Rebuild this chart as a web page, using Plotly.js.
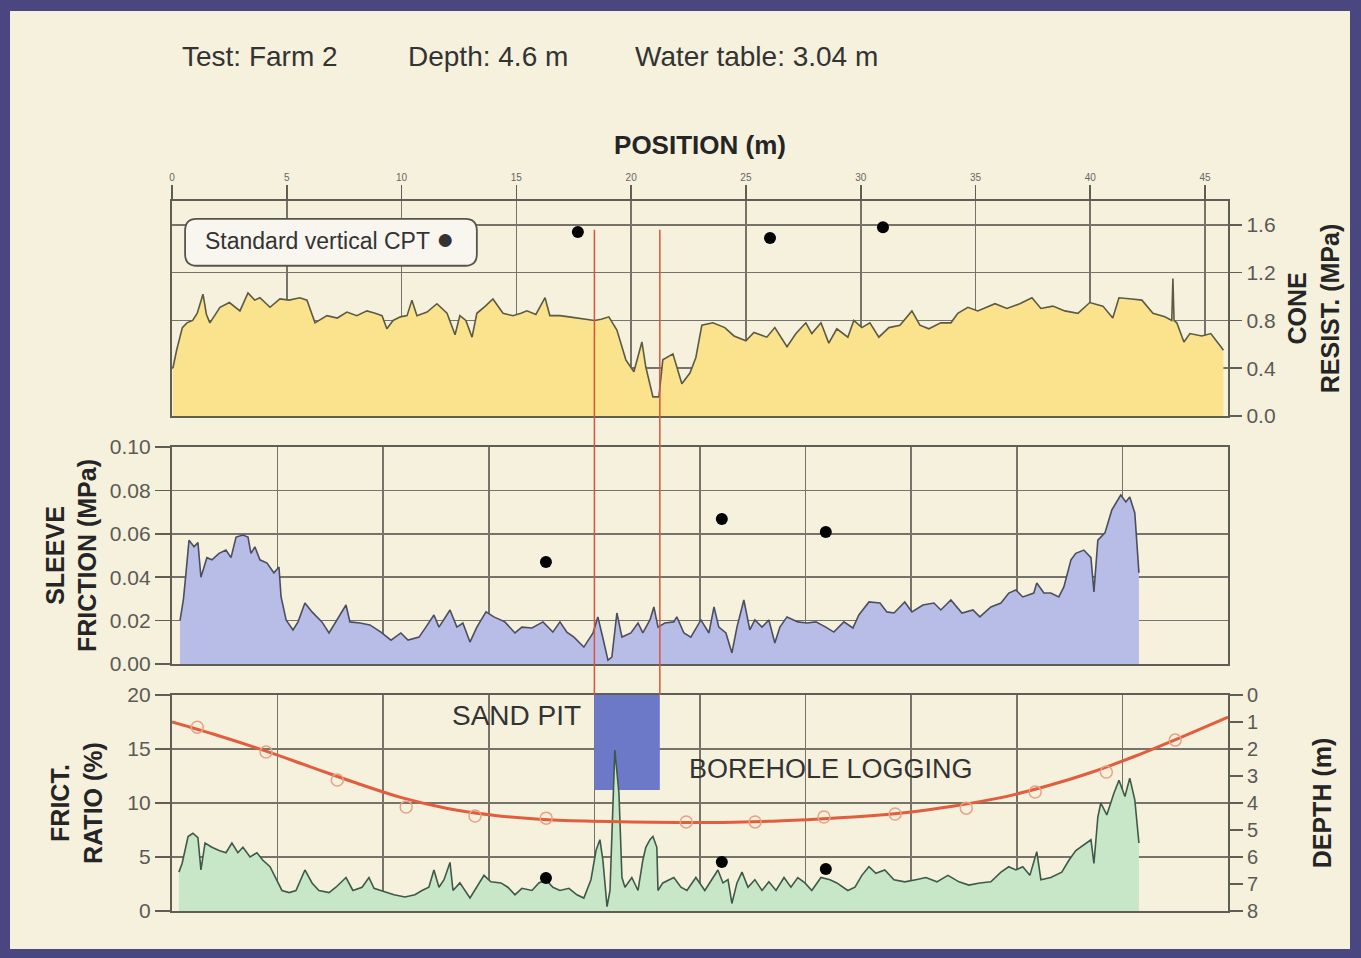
<!DOCTYPE html>
<html>
<head>
<meta charset="utf-8">
<script src="https://cdn.plot.ly/plotly-3.0.1.min.js"></script>
<style>
html,body{margin:0;padding:0;width:1361px;height:958px;overflow:hidden;background:#4a4680;}
#chart{position:absolute;left:10px;top:11px;width:1340px;height:938px;}
</style>
</head>
<body>
<div id="chart"></div>
<script>
// ---------- DATA ----------
const headerTexts = ['Test: Farm 2', 'Depth: 4.6 m', 'Water table: 3.04 m'];

// Cone resistance (MPa) vs position (m)
const coneX = [0.04,0.2,0.45,0.65,0.9,1.1,1.35,1.5,1.65,2.09,2.5,2.96,3.31,3.6,3.83,4.27,4.7,5.1,5.57,5.88,6.23,6.75,7.2,7.62,8.05,8.49,8.85,9.15,9.36,9.63,9.95,10.24,10.45,10.67,11.11,11.54,11.98,12.33,12.54,12.8,13.07,13.28,13.65,13.98,14.42,14.85,15.2,15.46,15.85,16.25,16.46,16.9,17.3,17.64,18.0,18.4,18.7,19.03,19.38,19.77,20.12,20.47,20.64,20.95,21.21,21.38,21.82,22.21,22.56,22.82,23.08,23.56,24.08,24.48,25.0,25.35,25.91,26.26,26.79,27.18,27.61,27.87,28.27,28.61,28.96,29.44,29.7,30.05,30.4,30.79,31.23,31.71,32.23,32.58,32.97,33.49,33.93,34.23,34.67,35.1,35.85,36.37,36.93,37.46,37.85,38.37,38.89,39.46,39.98,40.55,40.98,41.25,41.81,42.25,42.73,43.25,43.55,43.6,43.65,43.77,44.08,44.34,44.86,45.25,45.69,45.8];
const coneY = [0.40,0.55,0.74,0.78,0.80,0.86,1.02,0.85,0.78,0.91,0.95,0.88,1.03,0.97,0.99,0.91,0.98,0.97,0.99,0.97,0.78,0.84,0.82,0.87,0.84,0.88,0.86,0.84,0.73,0.80,0.83,0.84,0.97,0.84,0.87,0.94,0.86,0.68,0.84,0.80,0.66,0.86,0.92,0.98,0.86,0.84,0.86,0.88,0.85,0.99,0.84,0.84,0.83,0.82,0.81,0.80,0.81,0.83,0.72,0.47,0.37,0.62,0.41,0.16,0.16,0.47,0.52,0.27,0.36,0.49,0.76,0.78,0.74,0.67,0.63,0.70,0.66,0.74,0.58,0.69,0.78,0.69,0.78,0.61,0.73,0.66,0.80,0.74,0.78,0.66,0.74,0.76,0.88,0.76,0.73,0.78,0.78,0.86,0.91,0.88,0.94,0.90,0.94,0.99,0.90,0.92,0.88,0.86,0.95,0.92,0.82,0.99,0.98,0.97,0.86,0.83,0.80,1.15,0.80,0.78,0.62,0.69,0.67,0.69,0.58,0.55];

// Sleeve friction (MPa)
const sleeveX = [0.35,0.5,0.61,0.74,0.96,1.13,1.26,1.52,1.74,2.05,2.35,2.57,2.79,3.09,3.31,3.44,3.61,3.83,4.14,4.44,4.66,4.75,4.97,5.27,5.49,5.79,6.1,6.53,6.84,7.14,7.58,7.75,8.19,8.62,9.1,9.54,9.97,10.28,10.76,11.06,11.41,11.63,12.11,12.41,12.67,12.98,13.28,13.68,14.02,14.5,14.94,15.24,15.68,16.16,16.59,16.9,17.2,17.51,17.94,18.34,18.55,18.77,18.99,19.16,19.38,19.6,19.99,20.3,20.51,20.82,20.99,21.17,21.47,21.86,21.99,22.3,22.6,23.04,23.39,23.61,23.82,24.13,24.39,24.61,24.91,25.17,25.39,25.7,26.0,26.26,26.48,26.79,27.26,27.66,28.05,28.48,28.83,29.27,29.66,29.92,30.36,30.84,31.14,31.45,31.92,32.23,32.71,33.19,33.49,33.93,34.41,34.89,35.19,35.67,36.11,36.45,36.76,37.06,37.54,37.67,37.98,38.28,38.63,38.85,39.16,39.37,39.72,40.03,40.16,40.33,40.64,40.94,41.33,41.55,41.72,41.94,42.12];
const sleeveY = [0.020,0.030,0.042,0.057,0.054,0.056,0.040,0.049,0.048,0.051,0.0525,0.049,0.0585,0.0594,0.0585,0.051,0.054,0.048,0.0465,0.042,0.0447,0.031,0.0203,0.0157,0.0194,0.0281,0.024,0.0194,0.0143,0.0194,0.0272,0.0194,0.0189,0.018,0.0147,0.011,0.0143,0.011,0.0124,0.017,0.0226,0.017,0.0249,0.017,0.0189,0.0101,0.017,0.024,0.0217,0.0194,0.0143,0.017,0.0166,0.0194,0.0147,0.0194,0.0147,0.0124,0.0078,0.0143,0.0217,0.012,0.0018,0.0032,0.0235,0.0124,0.0143,0.0189,0.0143,0.0203,0.0263,0.017,0.0189,0.0194,0.0217,0.0143,0.0124,0.0203,0.0143,0.0263,0.017,0.0143,0.0051,0.017,0.0295,0.0157,0.0203,0.017,0.0203,0.0097,0.017,0.0217,0.0194,0.0189,0.0194,0.017,0.0147,0.0194,0.0166,0.0226,0.0286,0.0281,0.024,0.0235,0.0286,0.024,0.0272,0.0281,0.0249,0.0295,0.0235,0.0249,0.0217,0.0263,0.0281,0.0327,0.0341,0.0309,0.0327,0.0373,0.0327,0.0327,0.0309,0.0355,0.048,0.051,0.0525,0.049,0.0332,0.0571,0.0604,0.071,0.0779,0.0747,0.077,0.0696,0.042];

// Friction ratio (%)
const frictX = [0.3,0.44,0.7,0.91,1.13,1.26,1.44,1.74,2.05,2.35,2.61,2.87,3.09,3.4,3.7,3.96,4.27,4.57,4.79,5.1,5.4,5.79,6.1,6.4,6.84,7.14,7.58,7.88,8.28,8.58,8.8,9.23,9.67,10.15,10.58,10.89,11.19,11.41,11.63,11.85,12.11,12.24,12.54,12.98,13.28,13.59,13.89,14.33,14.63,14.94,15.24,15.68,15.98,16.29,16.59,16.9,17.29,17.64,17.94,18.25,18.47,18.64,18.77,18.95,19.08,19.29,19.47,19.6,19.73,20.03,20.3,20.51,20.64,20.82,20.95,21.12,21.17,21.38,21.86,22.17,22.43,22.82,23.21,23.52,23.78,24.0,24.22,24.39,24.61,24.83,25.09,25.39,25.7,26.0,26.31,26.66,26.96,27.26,27.57,27.87,28.27,28.66,28.96,29.44,29.75,30.05,30.36,30.66,31.05,31.45,31.92,32.4,32.84,33.32,33.8,34.28,34.71,35.19,35.67,36.11,36.45,36.76,37.06,37.37,37.67,37.85,38.28,38.76,39.07,39.37,39.72,40.03,40.16,40.33,40.46,40.72,41.03,41.25,41.51,41.72,41.94,42.12];
const frictY = [3.6,4.4,6.9,7.2,6.8,3.8,6.3,5.9,5.6,5.4,6.3,5.4,5.9,5.0,5.4,4.7,4.1,2.9,1.9,1.7,1.9,3.8,2.6,1.9,1.7,2.2,3.1,1.9,2.2,3.1,2.1,1.8,1.5,1.3,1.5,1.9,2.2,3.8,2.2,2.9,4.5,1.9,2.6,1.2,2.2,3.3,2.7,2.6,2.2,1.5,2.1,1.9,2.6,2.9,2.2,1.9,2.1,1.5,1.2,2.9,5.6,6.6,4.7,0.4,1.9,14.9,10.9,3.1,2.2,3.1,1.9,4.7,5.9,6.6,6.9,5.9,1.9,2.6,3.1,2.2,1.9,3.1,1.9,2.9,3.8,2.6,2.9,0.7,2.6,3.6,2.2,2.9,1.9,2.7,1.9,3.1,2.2,3.1,2.6,1.9,3.1,2.9,2.6,1.9,2.2,3.3,4.1,3.5,3.8,2.9,2.7,2.9,3.1,2.7,3.3,2.7,2.4,2.6,2.7,3.6,4.1,3.8,4.1,3.3,5.5,2.9,3.1,3.6,4.7,5.6,6.1,6.6,4.4,8.7,10.0,8.9,10.9,12.1,10.6,12.3,10.3,6.3];

// Borehole logging: depth (m) measured points and fitted curve
const depthPtX = [1.1,4.1,7.2,10.2,13.2,16.3,22.4,25.4,28.4,31.5,34.6,37.6,40.7,43.7,46.8];
const depthPtY = [1.19,2.11,3.15,4.15,4.48,4.56,4.70,4.70,4.52,4.41,4.19,3.59,2.85,1.67,0.48];
const fitX = [0,2,4,6,8,10,12,14,16,18,20,22,24,26,28,30,32,34,36,38,40,42,44,46];
const fitY = [1.0,1.5,2.05,2.65,3.25,3.8,4.2,4.45,4.6,4.67,4.7,4.72,4.72,4.68,4.6,4.5,4.35,4.12,3.82,3.4,2.88,2.25,1.55,0.82];

// Standard vertical CPT points
const cptTopX = [17.68,26.05,30.97], cptTopY = [1.54,1.49,1.58];
const cptMidX = [16.29,23.95,28.48], cptMidY = [0.047,0.0668,0.0608];
const cptBotX = [16.29,23.95,28.48], cptBotY = [3.06,4.54,3.89];

// Sand pit extent: position (m) and friction-ratio scale span
const sandPitX = [18.4, 21.25];
const sandPitY = [11.2, 20];

// ---------- STYLE ----------
const FONT = 'Liberation Sans, Arial, Helvetica, sans-serif';
const CREAM = '#f5f1dd';
const GRID = '#75736a', FRAME = '#5f5e55';
const TICKC = '#5a5a55';
const xRange = [0, 46];
const domTop = [0.6972, 1], domMid = [0.3479, 0.6535], domBot = [0, 0.3042];
const yTopRange = [0, 1.8];

function xAx(extra){
  return Object.assign({range:xRange, showgrid:true, gridcolor:GRID, gridwidth:1.6, zeroline:false,
    showline:true, linecolor:FRAME, linewidth:2.2, mirror:true, fixedrange:true}, extra);
}
function yAx(extra){
  return Object.assign({showgrid:true, gridcolor:GRID, gridwidth:1.6, zeroline:false,
    showline:true, linecolor:FRAME, linewidth:2.2, mirror:true, fixedrange:true,
    ticks:'outside', tickcolor:FRAME, tickwidth:1.6,
    tickfont:{family:FONT, size:21, color:TICKC}}, extra);
}
const titleFont = {family:FONT, size:25, color:'#252525'};

const traces = [
  {x:coneX, y:coneY, xaxis:'x', yaxis:'y', mode:'lines', fill:'tozeroy', fillcolor:'#fae38c',
   line:{color:'#5a5a45', width:1.6}},
  {x:cptTopX, y:cptTopY, xaxis:'x', yaxis:'y', mode:'markers', marker:{color:'#000', size:12}},
  {x:sleeveX, y:sleeveY, xaxis:'x2', yaxis:'y2', mode:'lines', fill:'tozeroy', fillcolor:'#b8bde8',
   line:{color:'#4c4e5e', width:1.6}},
  {x:cptMidX, y:cptMidY, xaxis:'x2', yaxis:'y2', mode:'markers', marker:{color:'#000', size:12}},
  {x:[sandPitX[0],sandPitX[1],sandPitX[1],sandPitX[0],sandPitX[0]],
   y:[sandPitY[1],sandPitY[1],sandPitY[0],sandPitY[0],sandPitY[1]],
   xaxis:'x3', yaxis:'y3', mode:'lines', fill:'toself', fillcolor:'#6c79c9', line:{width:0}},
  {x:frictX, y:frictY, xaxis:'x3', yaxis:'y3', mode:'lines', fill:'tozeroy', fillcolor:'#c7e7c8',
   line:{color:'#40584a', width:1.6}},
  {x:cptBotX, y:cptBotY, xaxis:'x3', yaxis:'y3', mode:'markers', marker:{color:'#000', size:12}},
  {x:fitX, y:fitY, xaxis:'x3', yaxis:'y4', mode:'lines', line:{color:'#e15d3e', width:3, shape:'spline'}},
  {x:depthPtX, y:depthPtY, xaxis:'x3', yaxis:'y4', mode:'markers', cliponaxis:false,
   marker:{symbol:'circle-open', size:12, color:'#e6a288', line:{width:1.5}}}
];

const redTop = domTop[0] + (1.56 / yTopRange[1]) * (domTop[1] - domTop[0]);

// legend box (rounded) in top-panel data coords
const bx0 = 0.57, bx1 = 13.28, by0 = 1.258, by1 = 1.65, rx = 0.5, ry = 0.1;
const boxPath = `M ${bx0+rx},${by1} L ${bx1-rx},${by1} Q ${bx1},${by1} ${bx1},${by1-ry} L ${bx1},${by0+ry} Q ${bx1},${by0} ${bx1-rx},${by0} L ${bx0+rx},${by0} Q ${bx0},${by0} ${bx0},${by0+ry} L ${bx0},${by1-ry} Q ${bx0},${by1} ${bx0+rx},${by1} Z`;

const hdrFont = {family:FONT, size:28, color:'#333'};
const layout = {
  width:1340, height:938,
  margin:{l:162, r:122, t:190, b:38},
  paper_bgcolor:CREAM, plot_bgcolor:CREAM,
  showlegend:false,
  font:{family:FONT, color:'#333'},
  xaxis: xAx({anchor:'y', side:'top', tick0:0, dtick:5, ticks:'outside', ticklen:14, tickwidth:1.6,
    tickcolor:FRAME, tickfont:{family:FONT, size:10, color:'#666'},
    title:{text:'<b>POSITION (m)</b>', font:{family:FONT, size:26, color:'#252525'}, standoff:10}}),
  yaxis: yAx({domain:domTop, anchor:'x', side:'right', range:yTopRange, dtick:0.4, tick0:0,
    tickformat:'.1f', ticklen:12,
    title:{text:'<b>CONE</b><br><b>RESIST. (MPa)</b>', font:titleFont, standoff:14}}),
  xaxis2: xAx({anchor:'y2', tick0:0, dtick:4.6, showticklabels:false, ticks:''}),
  yaxis2: yAx({domain:domMid, anchor:'x2', range:[0,0.1], dtick:0.02, tick0:0, tickformat:'.2f', ticklen:15,
    title:{text:'<b>SLEEVE</b><br><b>FRICTION (MPa)</b>', font:titleFont, standoff:6}}),
  xaxis3: xAx({anchor:'y3', tick0:0, dtick:4.6, showticklabels:false, ticks:''}),
  yaxis3: yAx({domain:domBot, anchor:'x3', range:[0,20], dtick:5, tick0:0, ticklen:15,
    title:{text:'<b>FRICT.</b><br><b>RATIO (%)</b>', font:titleFont, standoff:18}}),
  yaxis4: {overlaying:'y3', anchor:'x3', side:'right', range:[8,0], dtick:1, tick0:0,
    showgrid:false, zeroline:false, showline:false, ticks:'outside', ticklen:14, tickwidth:1.6,
    tickcolor:FRAME, tickfont:{family:FONT, size:20, color:TICKC}, fixedrange:true,
    title:{text:'<b>DEPTH (m)</b>', font:titleFont, standoff:56}},
  shapes:[
    {type:'line', xref:'x', yref:'paper', x0:sandPitX[0], x1:sandPitX[0], y0:domBot[1], y1:redTop,
     line:{color:'#d6553b', width:1.5}},
    {type:'line', xref:'x', yref:'paper', x0:sandPitX[1], x1:sandPitX[1], y0:domBot[1], y1:redTop,
     line:{color:'#d6553b', width:1.5}},
    {type:'path', xref:'x', yref:'y', path:boxPath, fillcolor:'#f8f6ee', line:{color:'#55554e', width:1.8}, layer:'above'}
  ],
  annotations:[
    {xref:'paper', yref:'paper', x:0.0076, y:1.204, xanchor:'left', yanchor:'middle', showarrow:false,
     text:headerTexts[0], font:hdrFont},
    {xref:'paper', yref:'paper', x:0.2216, y:1.204, xanchor:'left', yanchor:'middle', showarrow:false,
     text:headerTexts[1], font:hdrFont},
    {xref:'paper', yref:'paper', x:0.4366, y:1.204, xanchor:'left', yanchor:'middle', showarrow:false,
     text:headerTexts[2], font:hdrFont},
    {xref:'x', yref:'y', x:1.35, y:1.485, xanchor:'left', yanchor:'middle', showarrow:false,
     text:'Standard vertical CPT <span style="font-size:30px">●</span>', font:{family:FONT, size:23, color:'#333'}},
    {xref:'x3', yref:'y3', x:17.9, y:18.1, xanchor:'right', yanchor:'middle', showarrow:false,
     text:'SAND PIT', font:{family:FONT, size:28, color:'#333'}},
    {xref:'x3', yref:'y3', x:22.43, y:13.15, xanchor:'left', yanchor:'middle', showarrow:false,
     text:'BOREHOLE LOGGING', font:{family:FONT, size:27, color:'#333'}}
  ]
};

Plotly.newPlot('chart', traces, layout, {displayModeBar:false, staticPlot:true});
</script>
</body>
</html>
